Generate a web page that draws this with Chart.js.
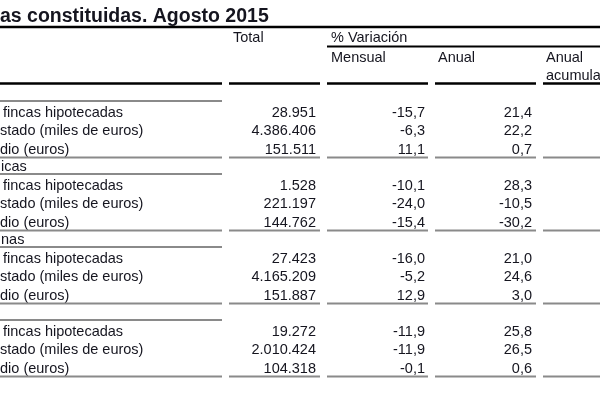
<!DOCTYPE html>
<html>
<head>
<meta charset="utf-8">
<script src="https://cdn.jsdelivr.net/npm/chart.js@4"></script>
<style>
  html, body { margin: 0; padding: 0; background: #fff; }
</style>
</head>
<body>
<canvas id="tabla" width="600" height="400"></canvas>
<script>
// Hipotecas constituidas, agosto 2015 (recorte de la tabla)

const title = 'as constituidas. Agosto 2015';
const sections = ['', 'icas', 'nas', ''];
const rowLabels = ['fincas hipotecadas', 'stado (miles de euros)', 'dio (euros)'];
const headTotal = 'Total';
const headVariacion = '% Variación';
const headCols = ['Mensual', 'Anual', 'Anual'];

// one entry per row, sections in order
const total   = [28951, 4386406, 151511, 1528, 221197, 144762, 27423, 4165209, 151887, 19272, 2010424, 104318];
const mensual = [-15.7, -6.3, 11.1, -10.1, -24.0, -15.4, -16.0, -5.2, 12.9, -11.9, -11.9, -0.1];
const anual   = [21.4, 22.2, 0.7, 28.3, -10.5, -30.2, 21.0, 24.6, 3.0, 25.8, 26.5, 0.6];

// column spans (x from, x to)
const cols = [[0, 222], [229, 320], [327, 428], [435, 536], [543, 600]];

const fmtInt = v => String(v).replace(/\B(?=(\d{3})+(?!\d))/g, '.');
const fmtPct = v => v.toFixed(1).replace('.', ',');

const rowY = (s, r) => 117 + s * 73 + r * 18.3;

const tablePlugin = {
    id: 'tabla',
    afterDraw(chart) {
        const ctx = chart.ctx;
        const X = v => chart.scales.x.getPixelForValue(v);
        const Y = v => chart.scales.y.getPixelForValue(v);

        const hline = (x1, x2, y, w, color) => {
            ctx.beginPath();
            ctx.strokeStyle = color;
            ctx.lineWidth = w;
            ctx.moveTo(X(x1), Y(y));
            ctx.lineTo(X(x2), Y(y));
            ctx.stroke();
        };
        const text = (t, x, y, align, font) => {
            ctx.font = font;
            ctx.textAlign = align;
            ctx.textBaseline = 'alphabetic';
            ctx.fillStyle = '#15151f';
            ctx.fillText(t, X(x), Y(y));
        };

        ctx.save();
        const f = '14.5px "Liberation Sans", Arial, sans-serif';

        text(title, 0, 22, 'left', 'bold 19.5px "Liberation Sans", Arial, sans-serif');
        hline(0, 600, 27, 2.5, '#000');

        text(headTotal, 233, 42, 'left', f);
        text(headVariacion, 331, 42, 'left', f);
        hline(327, 600, 46.5, 2, '#000');
        text(headCols[0], 331, 62, 'left', f);
        text(headCols[1], 438, 62, 'left', f);
        text(headCols[2], 546, 62, 'left', f);
        text('acumulada', 546, 80, 'left', f);
        cols.forEach(c => hline(c[0], c[1], 83.5, 2.5, '#000'));

        sections.forEach((sec, s) => {
            const y0 = rowY(s, 0);
            text(sec, 1, y0 - 19, 'left', f);
            hline(0, 222, y0 - 16, 2, '#8a8a8a');
            rowLabels.forEach((lab, r) => {
                const i = s * 3 + r;
                const y = rowY(s, r);
                text(lab, r === 0 ? 3 : 0, y, 'left', f);
                text(fmtInt(total[i]), 316, y, 'right', f);
                text(fmtPct(mensual[i]), 425, y, 'right', f);
                text(fmtPct(anual[i]), 532, y, 'right', f);
            });
            cols.forEach(c => hline(c[0], c[1], rowY(s, 2) + 4, 2, '#8a8a8a'));
        });
        ctx.restore();
    }
};

new Chart(
    document.getElementById('tabla'),
    {
        type: 'scatter',
        data: { datasets: [{ data: [], pointRadius: 0 }] },
        options: {
            responsive: false,
            animation: false,
            layout: { padding: 0 },
            plugins: { legend: { display: false }, tooltip: { enabled: false } },
            scales: {
                x: { type: 'linear', min: 0, max: 600, display: false },
                y: { type: 'linear', min: 0, max: 400, reverse: true, display: false }
            }
        },
        plugins: [tablePlugin]
    }
);
</script>
</body>
</html>
